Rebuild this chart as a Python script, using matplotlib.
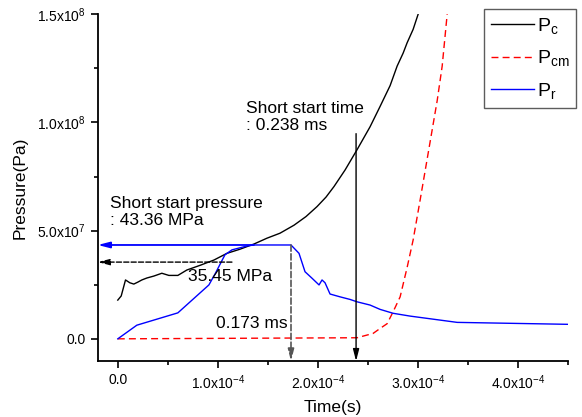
#!/usr/bin/env python3
"""Pressure vs time with short-start annotations."""
import matplotlib
matplotlib.use("Agg")
import matplotlib.pyplot as plt

plt.rcParams["font.family"] = ["Liberation Sans", "DejaVu Sans"]
plt.rcParams["mathtext.fontset"] = "custom"
plt.rcParams["mathtext.rm"] = "Liberation Sans"
plt.rcParams["mathtext.it"] = "Liberation Sans"

# P_c (black)
t_c = [0.0, 0.034e-4, 0.077e-4, 0.12e-4, 0.16e-4, 0.20e-4, 0.24e-4, 0.29e-4,
       0.36e-4, 0.44e-4, 0.51e-4, 0.60e-4, 0.69e-4, 0.83e-4, 0.96e-4, 1.09e-4,
       1.22e-4, 1.36e-4, 1.49e-4, 1.62e-4, 1.76e-4, 1.88e-4, 1.99e-4, 2.08e-4,
       2.16e-4, 2.27e-4, 2.39e-4, 2.52e-4, 2.62e-4, 2.72e-4, 2.79e-4, 2.85e-4,
       2.89e-4, 2.95e-4, 3.0e-4]
p_c = [1.79e7, 1.98e7, 2.72e7, 2.59e7, 2.53e7, 2.62e7, 2.72e7, 2.81e7,
       2.90e7, 3.03e7, 2.93e7, 2.93e7, 3.18e7, 3.41e7, 3.64e7, 3.95e7,
       4.14e7, 4.38e7, 4.65e7, 4.88e7, 5.25e7, 5.65e7, 6.11e7, 6.55e7,
       7.04e7, 7.8e7, 8.74e7, 9.8e7, 1.074e8, 1.17e8, 1.26e8, 1.32e8,
       1.368e8, 1.43e8, 1.50e8]

# P_cm (red dashed)
t_cm = [0.0, 2.39e-4, 2.55e-4, 2.62e-4, 2.69e-4, 2.75e-4, 2.82e-4, 2.89e-4,
        2.95e-4, 3.02e-4, 3.19e-4, 3.24e-4, 3.29e-4]
p_cm = [0.0, 0.5e6, 2.5e6, 4.8e6, 7.0e6, 1.25e7, 1.94e7, 3.3e7,
        4.57e7, 6.42e7, 1.10e8, 1.26e8, 1.50e8]

# P_r (blue)
t_r = [0.0, 0.19e-4, 0.60e-4, 0.91e-4, 0.975e-4, 1.07e-4, 1.14e-4, 1.29e-4,
       1.36e-4, 1.73e-4, 1.81e-4, 1.87e-4, 1.94e-4, 2.01e-4, 2.04e-4, 2.07e-4,
       2.12e-4, 2.22e-4, 2.32e-4, 2.39e-4, 2.52e-4, 2.62e-4, 2.75e-4, 2.92e-4,
       3.39e-4, 4.5e-4]
p_r = [0.0, 6.3e6, 1.2e7, 2.49e7, 3.03e7, 3.88e7, 4.11e7, 4.29e7,
       4.336e7, 4.336e7, 3.95e7, 3.1e7, 2.8e7, 2.49e7, 2.72e7, 2.59e7,
       2.07e7, 1.94e7, 1.82e7, 1.71e7, 1.56e7, 1.36e7, 1.18e7, 1.05e7,
       7.6e6, 6.7e6]

x_ticks = [0.0, 1e-4, 2e-4, 3e-4, 4e-4]
x_labels = ["0.0", r"$\mathregular{1.0x10^{-4}}$", r"$\mathregular{2.0x10^{-4}}$",
            r"$\mathregular{3.0x10^{-4}}$", r"$\mathregular{4.0x10^{-4}}$"]
y_ticks = [0.0, 5e7, 1e8, 1.5e8]
y_labels = ["0.0", r"$\mathregular{5.0x10^{7}}$", r"$\mathregular{1.0x10^{8}}$",
            r"$\mathregular{1.5x10^{8}}$"]

short_time = 2.38e-4
short_pressure = 4.336e7
pressure_2 = 3.545e7
time_2 = 1.73e-4

fig = plt.figure(figsize=(5.82, 4.17), dpi=100)
ax = fig.add_axes([0.168, 0.134, 0.8085, 0.832])

ax.plot(t_c, p_c, color="black", lw=1.0, label=r"$\mathregular{P_c}$")
ax.plot(t_cm, p_cm, color="red", lw=1.0, ls=(0, (5, 3)),
        label=r"$\mathregular{P_{cm}}$")
ax.plot(t_r, p_r, color="blue", lw=1.0, label=r"$\mathregular{P_r}$")

ax.set_xlim(-2e-5, 4.5e-4)
ax.set_ylim(-1.03e7, 1.5e8)
ax.set_xticks(x_ticks)
ax.set_xticklabels(x_labels)
ax.set_xticks([0.5e-4, 1.5e-4, 2.5e-4, 3.5e-4, 4.5e-4], minor=True)
ax.set_yticks(y_ticks)
ax.set_yticklabels(y_labels)
ax.set_yticks([2.5e7, 7.5e7, 1.25e8], minor=True)
ax.tick_params(which="major", direction="out", length=5, width=1.2, labelsize=10)
ax.tick_params(which="minor", direction="out", length=3, width=1.2)
for side in ["top", "right"]:
    ax.spines[side].set_visible(False)
for side in ["left", "bottom"]:
    ax.spines[side].set_linewidth(1.3)

ax.set_xlabel("Time(s)", fontsize=12.5, labelpad=6)
ax.set_ylabel("Pressure(Pa)", fontsize=12.5)
ax.yaxis.set_label_coords(-0.166, 0.5)
ax.yaxis.label.set_va("center")

head = "-|>,head_length=0.7,head_width=0.18"
# short start time
ax.annotate("", xy=(short_time, -1.03e7), xytext=(short_time, 9.48e7),
            arrowprops=dict(arrowstyle=head, color="black", lw=1.0,
                            shrinkA=0, shrinkB=0), annotation_clip=False)
ax.text(1.285e-4, 1.026e8, "Short start time\n: 0.238 ms", fontsize=12.5,
        va="center", ha="left", linespacing=1.2)
# short start pressure
ax.annotate("", xy=(-2e-5, short_pressure), xytext=(1.36e-4, short_pressure),
            arrowprops=dict(arrowstyle=head, color="blue", lw=1.3,
                            shrinkA=0, shrinkB=0), annotation_clip=False)
ax.text(-0.073e-4, 5.86e7, "Short start pressure\n: 43.36 MPa", fontsize=12.5,
        va="center", ha="left", linespacing=1.2)
# 35.45 MPa
ax.annotate("", xy=(-2e-5, pressure_2), xytext=(1.14e-4, pressure_2),
            arrowprops=dict(arrowstyle=head, color="black", lw=1.0, ls="--",
                            shrinkA=0, shrinkB=0), annotation_clip=False)
ax.text(0.705e-4, 2.86e7, "35.45 MPa", fontsize=12.5, va="center", ha="left")
# 0.173 ms
ax.annotate("", xy=(time_2, -1.03e7), xytext=(time_2, short_pressure),
            arrowprops=dict(arrowstyle=head, color="#555555", lw=1.2, ls="--",
                            shrinkA=0, shrinkB=0), annotation_clip=False)
ax.text(0.985e-4, 0.73e7, "0.173 ms", fontsize=12.5, va="center", ha="left")

leg = fig.legend(loc="upper right", bbox_to_anchor=(576 / 582, 1 - 9 / 417),
                 fontsize=14, handlelength=2.2, handletextpad=0.15,
                 labelspacing=0.65, borderaxespad=0, fancybox=False,
                 edgecolor="#333333", borderpad=0.35)
leg.get_frame().set_linewidth(1.0)

fig.savefig("out.png", dpi=100)
